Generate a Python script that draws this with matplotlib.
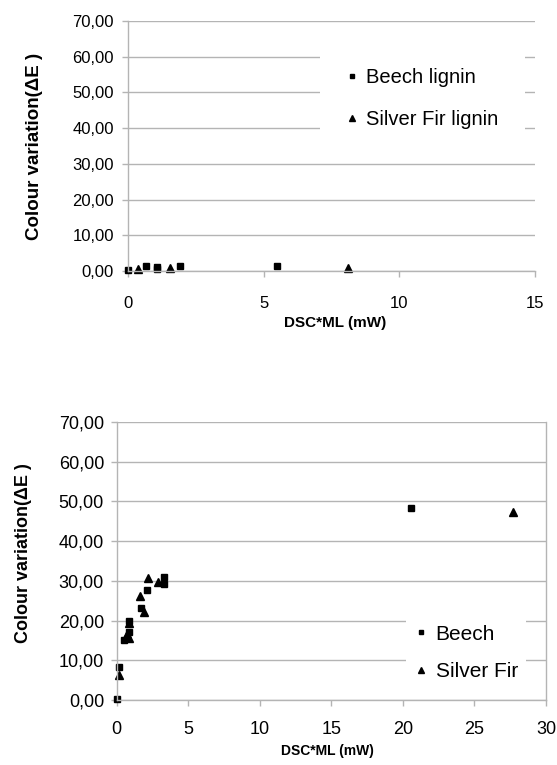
import matplotlib
matplotlib.use("Agg")
import matplotlib.pyplot as plt
from matplotlib.ticker import FuncFormatter, MultipleLocator

plt.rcParams["font.family"] = ["Liberation Sans", "DejaVu Sans"]

# top chart: lignins
beech_lignin_x = [0.0, 0.65, 1.07, 1.07, 1.9, 5.48]
beech_lignin_y = [0.3, 1.5, 1.2, 0.6, 1.3, 1.5]
fir_lignin_x = [0.37, 1.53, 8.1]
fir_lignin_y = [0.6, 0.7, 0.9]

# bottom chart: wood
beech_x = [0.0, 0.15, 0.5, 0.85, 0.85, 1.72, 2.13, 3.29, 3.29, 20.6]
beech_y = [0.2, 8.2, 15.2, 19.8, 17.2, 23.1, 27.7, 30.9, 29.2, 48.4]
fir_x = [0.2, 0.63, 0.7, 0.9, 0.85, 1.62, 1.9, 2.18, 2.87, 27.7]
fir_y = [6.3, 15.8, 16.6, 15.6, 19.4, 26.1, 22.2, 30.6, 29.8, 47.3]

y_ticks = [0, 10, 20, 30, 40, 50, 60, 70]
ylabel = "Colour variation(ΔE )"
xlabel = "DSC*ML (mW)"

W, H = 557, 765
GRID = "#b4b4b4"


def comma_fmt(v, pos):
    return f"{v:.2f}".replace(".", ",")


def style_axes(ax, xmax, xstep, tick_fs, right_spine):
    ax.set_xlim(0, xmax)
    ax.set_ylim(0, 70)
    ax.xaxis.set_major_locator(MultipleLocator(xstep))
    ax.set_yticks(y_ticks)
    ax.yaxis.set_major_formatter(FuncFormatter(comma_fmt))
    ax.grid(True, axis="y", color=GRID, linewidth=1.0)
    ax.set_axisbelow(True)
    for s in ["top", "right"]:
        ax.spines[s].set_visible(False)
    if right_spine:
        ax.spines["right"].set_visible(True)
    for s in ["left", "bottom", "right"]:
        ax.spines[s].set_color(GRID)
        ax.spines[s].set_linewidth(1.0)
    ax.tick_params(axis="both", colors=GRID, labelcolor="black", labelsize=tick_fs,
                   length=4, width=1.0)


fig = plt.figure(figsize=(W / 100, H / 100), dpi=100)

# top axes
ax1 = fig.add_axes([128 / W, (H - 271) / H, 407 / W, 250 / H])
style_axes(ax1, 15, 5, 12, False)
ax1.tick_params(axis="x", pad=14)
ax1.tick_params(axis="y", pad=6)
ax1.plot(beech_lignin_x, beech_lignin_y, ls="none", marker="s", ms=4.8, color="black",
         label="Beech lignin", clip_on=False)
ax1.plot(fir_lignin_x, fir_lignin_y, ls="none", marker="^", ms=5.8, color="black",
         label="Silver Fir lignin", clip_on=False)
ax1.set_xlabel(xlabel, fontsize=11, fontweight="bold")
ax1.xaxis.set_label_coords(0.508, -0.18)
ax1.set_ylabel(ylabel, fontsize=13.5, fontweight="bold")
ax1.yaxis.set_label_coords(-0.21, 0.5)
leg1 = ax1.legend(loc="center left", bbox_to_anchor=(0.472, 0.69), fontsize=14.5,
                  frameon=True, fancybox=False, facecolor="white", edgecolor="none",
                  framealpha=1, borderpad=1.3, borderaxespad=0, handlelength=0.6,
                  handletextpad=0.4, labelspacing=1.12, markerscale=0.7)

# bottom axes
ax2 = fig.add_axes([116.5 / W, (H - 700) / H, 429.5 / W, 278 / H])
style_axes(ax2, 30, 5, 13, True)
ax2.tick_params(axis="x", pad=11)
ax2.tick_params(axis="y", pad=5)
ax2.plot(beech_x, beech_y, ls="none", marker="s", ms=4.8, color="black",
         label="Beech", clip_on=False)
ax2.plot(fir_x, fir_y, ls="none", marker="^", ms=5.8, color="black",
         label="Silver Fir", clip_on=False)
ax2.set_xlabel(xlabel, fontsize=10, fontweight="bold")
ax2.xaxis.set_label_coords(0.49, -0.16)
ax2.set_ylabel(ylabel, fontsize=13, fontweight="bold")
ax2.yaxis.set_label_coords(-0.197, 0.53)
leg2 = ax2.legend(loc="center left", bbox_to_anchor=(0.675, 0.169), fontsize=15,
                  frameon=True, fancybox=False, facecolor="white", edgecolor="none",
                  framealpha=1, borderpad=0.4, borderaxespad=0, handlelength=0.6,
                  handletextpad=0.4, labelspacing=0.9, markerscale=0.7)

fig.savefig("out.png", dpi=100)
